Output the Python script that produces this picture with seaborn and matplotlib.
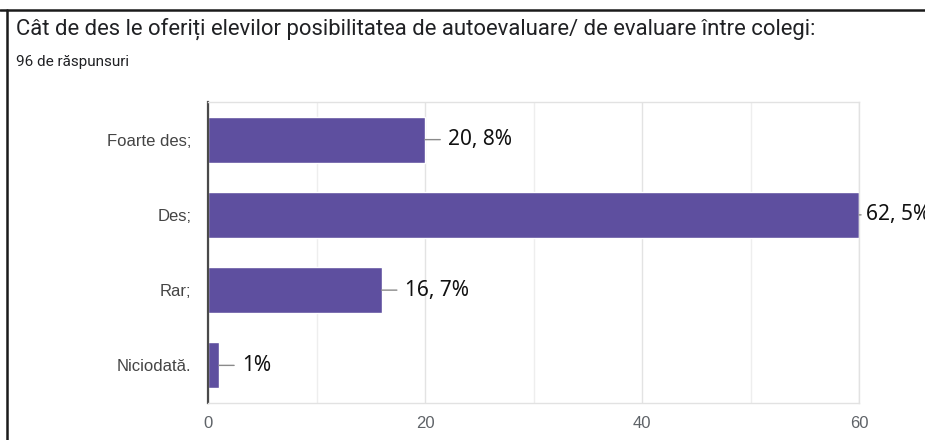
import matplotlib
matplotlib.use("Agg")
import matplotlib.pyplot as plt
import seaborn as sns
import pandas as pd
from matplotlib.lines import Line2D
from matplotlib.ticker import MultipleLocator

# data
categories = ["Foarte des;", "Des;", "Rar;", "Niciodată."]
counts = [20, 60, 16, 1]
value_labels = ["20, 8%", "62, 5%", "16, 7%", "1%"]

title = "Cât de des le oferiți elevilor posibilitatea de autoevaluare/ de evaluare între colegi:"
subtitle = "96 de răspunsuri"

sns.set_theme(style="white")
plt.rcParams["font.family"] = ["Liberation Sans", "DejaVu Sans"]

df = pd.DataFrame({"cat": categories, "n": counts})

W, H = 925, 440
fig = plt.figure(figsize=(W / 100, H / 100), dpi=100)
fig.patch.set_facecolor("white")

# plot area in pixels: x 208..859, y 102..403
ax = fig.add_axes([208 / W, 1 - 403 / H, (859 - 208) / W, (403 - 102) / H])

sns.barplot(data=df, y="cat", x="n", orient="h", color="#5e4f9f",
            width=0.61, saturation=1, ax=ax)

xmax = 60
ax.set_xlim(0, xmax)
ax.set_ylim(3.5, -0.5)
ax.xaxis.set_major_locator(MultipleLocator(20))
ax.xaxis.set_minor_locator(MultipleLocator(10))
ax.grid(axis="x", which="major", color="#e3e3e3", lw=1)
ax.grid(axis="x", which="minor", color="#eeeeee", lw=1)
ax.set_axisbelow(True)
ax.set_xlabel("")
ax.set_ylabel("")

for side in ["top", "right", "bottom"]:
    ax.spines[side].set_color("#e2e2e2")
    ax.spines[side].set_linewidth(1)
ax.spines["left"].set_color("#4a4a4a")
ax.spines["left"].set_linewidth(1.6)

ax.tick_params(axis="y", length=0, pad=12, labelsize=12, labelcolor="#444444")
ax.tick_params(axis="x", which="both", length=0, pad=9, labelsize=12,
               labelcolor="#5f6368")

# leader line + value text beside each bar (squeezed in for the bar at the edge)
for i, (v, lab) in enumerate(zip(counts, value_labels)):
    at_edge = v >= xmax
    line_len = 1.5 if at_edge else 11
    text_off = 5 if at_edge else 16.5
    ax.annotate("", xy=(v, i), xytext=(line_len, 0), textcoords="offset points",
                arrowprops=dict(arrowstyle="-", color="#8a8a8a", lw=1,
                                shrinkA=0, shrinkB=0),
                annotation_clip=False)
    ax.annotate(lab, xy=(v, i), xytext=(text_off, 0), textcoords="offset points",
                va="center", ha="left", fontsize=15, color="#111111",
                family=["Noto Sans", "DejaVu Sans"], annotation_clip=False)

fig.text(16 / W, 1 - 29 / H, title, ha="left", va="center", fontsize=15.9,
         color="#202124", family=["Roboto", "DejaVu Sans"])
fig.text(16 / W, 1 - 62 / H, subtitle, ha="left", va="center", fontsize=11,
         color="#202124", family=["Roboto", "DejaVu Sans"])

# dark frame lines (top and left) of the screenshot
fig.add_artist(Line2D([0, 1], [1 - 10 / H, 1 - 10 / H], transform=fig.transFigure,
                      color="#1a1a1a", lw=1.8))
fig.add_artist(Line2D([7 / W, 7 / W], [0, 1 - 10 / H], transform=fig.transFigure,
                      color="#1a1a1a", lw=1.8))

fig.savefig("out.png", dpi=100, facecolor="white")
